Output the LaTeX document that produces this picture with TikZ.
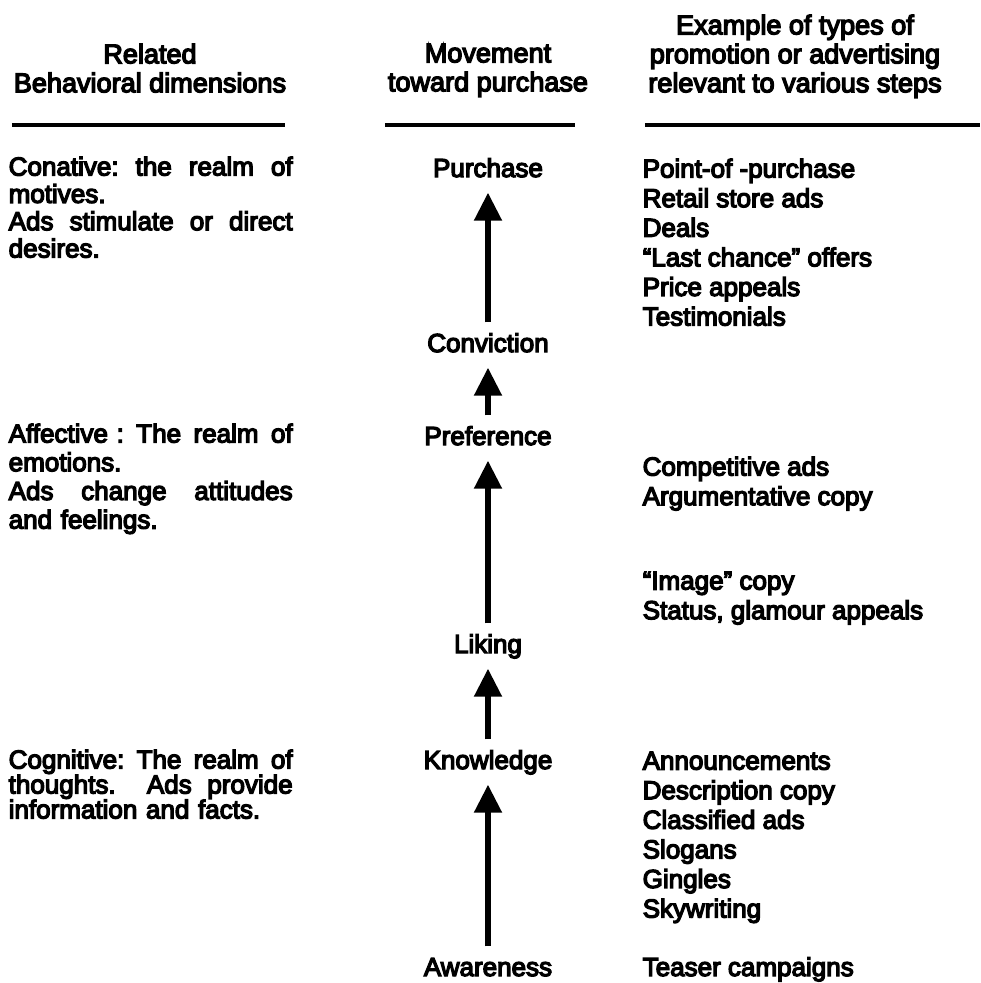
\documentclass[tikz,border=0pt]{standalone}
\usepackage{fontspec}
\setmainfont{Liberation Sans}[FakeBold=5]
\usetikzlibrary{arrows.meta}

\newcommand{\fillline}[1]{\makebox[2.84cm][l]{#1}}

\begin{document}
\lineskiplimit=-3pt
\begin{tikzpicture}
	\tikzstyle{head}=[anchor=north,align=center,inner sep=0pt,font=\fontsize{7.7}{8.24}\selectfont]
	\tikzstyle{stage}=[inner xsep=0.05cm,inner ysep=0.10cm,text height=0.19cm,text depth=0.05cm,font=\fontsize{7.4}{8.4}\selectfont]
	\tikzstyle{dim}=[anchor=north west,text width=2.84cm,align=left,inner sep=0pt]
	\tikzstyle{promo}=[anchor=north west,align=left,inner sep=0pt,font=\fontsize{7.4}{8.42}\selectfont]
	\tikzstyle{rule}=[line width=1.1pt]
	\tikzstyle{uparrow}=[-{Triangle[width=0.27cm,length=0.28cm]},line width=1.5pt]
	\useasboundingbox (0,0) rectangle (9.80,-9.83);
	% column heads
	\node[head] (hdim) at (1.50,-0.43) {Related\\Behavioral dimensions};
	\node[head] (hmove) at (4.88,-0.43) {Movement\\toward purchase};
	\node[head] (hpromo) at (7.95,-0.14) {Example of types of\\promotion or advertising\\relevant to various steps};
	\draw[rule] (0.12,-1.25) -- (2.85,-1.25);
	\draw[rule] (3.85,-1.25) -- (5.75,-1.25);
	\draw[rule] (6.45,-1.25) -- (9.80,-1.25);
	% behavioral dimensions
	\node[dim,font=\fontsize{7.4}{7.77}\selectfont] (conat) at (0.08,-1.56) {\fillline{Conative:\hfill the\hfill realm\hfill of}\\motives.\\\fillline{Ads\hfill stimulate\hfill or\hfill direct}\\desires.};
	\node[dim,font=\fontsize{7.4}{8.16}\selectfont] (affect) at (0.08,-4.23) {\fillline{Affective :\hfill The\hfill realm\hfill of}\\emotions.\\\fillline{Ads\hfill change\hfill attitudes}\\and feelings.};
	\node[dim,font=\fontsize{7.4}{7.1}\selectfont] (cogn) at (0.08,-7.49) {\fillline{Cognitive:\hfill The\hfill realm\hfill of}\\\fillline{thoughts.\hspace{0.6em}\hfill Ads\hfill provide}\\information and facts.};
	% movement toward purchase
	\node[stage] (purch) at (4.88,-1.70) {Purchase};
	\node[stage] (convic) at (4.88,-3.45) {Conviction};
	\node[stage] (prefer) at (4.88,-4.38) {Preference};
	\node[stage] (liking) at (4.88,-6.46) {Liking};
	\node[stage] (knowl) at (4.88,-7.62) {Knowledge};
	\node[stage] (aware) at (4.88,-9.69) {Awareness};
	\draw[uparrow] (convic) -- (purch);
	\draw[uparrow] (prefer) -- (convic);
	\draw[uparrow] (liking) -- (prefer);
	\draw[uparrow] (knowl) -- (liking);
	\draw[uparrow] (aware) -- (knowl);
	% promotion and advertising
	\node[promo] (pop) at (6.42,-1.58) {Point-of -purchase\\Retail store ads\\Deals\\“Last chance” offers\\Price appeals\\Testimonials};
	\node[promo] (compet) at (6.42,-4.56) {Competitive ads\\Argumentative copy};
	\node[promo] (image) at (6.42,-5.71) {“Image” copy\\Status, glamour appeals};
	\node[promo] (announ) at (6.42,-7.51) {Announcements\\Description copy\\Classified ads\\Slogans\\Gingles\\Skywriting};
	\node[stage,anchor=west,inner xsep=0pt] (teaser) at (6.42,-9.69) {Teaser campaigns};
\end{tikzpicture}
\end{document}
